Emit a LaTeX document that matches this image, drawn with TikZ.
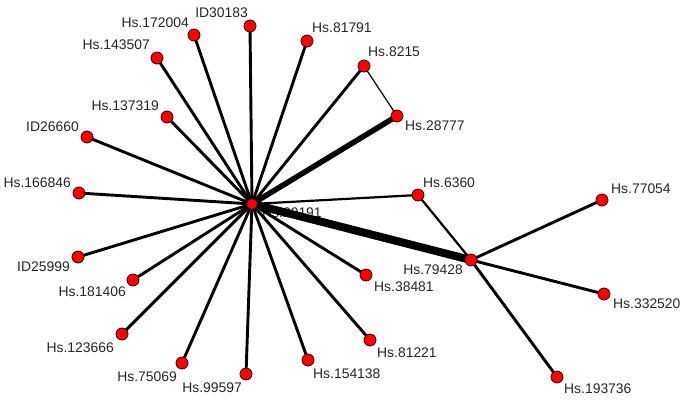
\documentclass[tikz,border=0pt]{standalone}
\usepackage{fontspec}
\setmainfont{Liberation Sans}
\begin{document}
\begin{tikzpicture}[x=1pt,y=-1pt,
  gene/.style={circle,draw=black!80!red,line width=0.8pt,fill=red,minimum size=12pt,inner sep=0pt},
  lbl/.style={inner sep=0pt,font=\fontsize{13.9}{16}\selectfont,text=black!85},
  edge/.style={line width=2.9pt},
  thinedge/.style={line width=1.2pt},
  midedge/.style={line width=2.2pt},
  heavyedge/.style={line width=5.5pt},
  heaviestedge/.style={line width=8pt}]
\useasboundingbox (0,0) rectangle (685,413);
% label of the hub (under the edges)
\node[lbl,anchor=west] (lc) at (262,213) {Hs.29191};
% coordinates of nodes
\coordinate (c) at (252,204);
\coordinate (p1) at (250,26);
\coordinate (p2) at (194,35);
\coordinate (p3) at (157,58);
\coordinate (p4) at (167,117);
\coordinate (p5) at (87,137);
\coordinate (p6) at (307,41);
\coordinate (p7) at (364,66);
\coordinate (p8) at (397,116);
\coordinate (p9) at (79,193);
\coordinate (p10) at (78,257);
\coordinate (p11) at (133,280);
\coordinate (p12) at (122,334);
\coordinate (p13) at (182,363);
\coordinate (p14) at (246,374);
\coordinate (p15) at (308,360);
\coordinate (p16) at (370,340);
\coordinate (p17) at (366,275);
\coordinate (p18) at (418,195);
\coordinate (p19) at (471,260);
\coordinate (p20) at (602,200);
\coordinate (p21) at (604,294);
\coordinate (p22) at (557,377);
% edges
\foreach \i in {1,2,3,4,5,6,7,9,10,11,12,13,14,15,16,17}
  \draw[edge] (c) -- (p\i);
\draw[heavyedge] (c) -- (p8);
\draw[thinedge] (p7) -- (p8);
\draw[midedge] (c) -- (p18);
\draw[heaviestedge] (c) -- (p19);
\draw[midedge] (p18) -- (p19);
\draw[edge] (p19) -- (p20);
\draw[edge] (p19) -- (p21);
\draw[edge] (p19) -- (p22);
% nodes
\node[gene,minimum size=11pt] (n0) at (c) {};
\foreach \i in {1,...,22}
  \node[gene] (n\i) at (p\i) {};
% labels
\node[lbl,anchor=east] (l1) at (248,13) {ID30183};
\node[lbl,anchor=east] (l2) at (189,23) {Hs.172004};
\node[lbl,anchor=east] (l3) at (150,45) {Hs.143507};
\node[lbl,anchor=east] (l4) at (159,106) {Hs.137319};
\node[lbl,anchor=east] (l5) at (79,127) {ID26660};
\node[lbl,anchor=west] (l6) at (312,28) {Hs.81791};
\node[lbl,anchor=west] (l7) at (368,52) {Hs.8215};
\node[lbl,anchor=west] (l8) at (405,126) {Hs.28777};
\node[lbl,anchor=east] (l9) at (71,183) {Hs.166846};
\node[lbl,anchor=east] (l10) at (70,267) {ID25999};
\node[lbl,anchor=east] (l11) at (126,292) {Hs.181406};
\node[lbl,anchor=east] (l12) at (114,348) {Hs.123666};
\node[lbl,anchor=east] (l13) at (177,377) {Hs.75069};
\node[lbl,anchor=east] (l14) at (242,388) {Hs.99597};
\node[lbl,anchor=west] (l15) at (313,374) {Hs.154138};
\node[lbl,anchor=west] (l16) at (377,353) {Hs.81221};
\node[lbl,anchor=west] (l17) at (374,287) {Hs.38481};
\node[lbl,anchor=west] (l18) at (423,183) {Hs.6360};
\node[lbl,anchor=east] (l19) at (463,270) {Hs.79428};
\node[lbl,anchor=west] (l20) at (611,189) {Hs.77054};
\node[lbl,anchor=west] (l21) at (613,304) {Hs.332520};
\node[lbl,anchor=west] (l22) at (564,389) {Hs.193736};
\end{tikzpicture}
\end{document}
